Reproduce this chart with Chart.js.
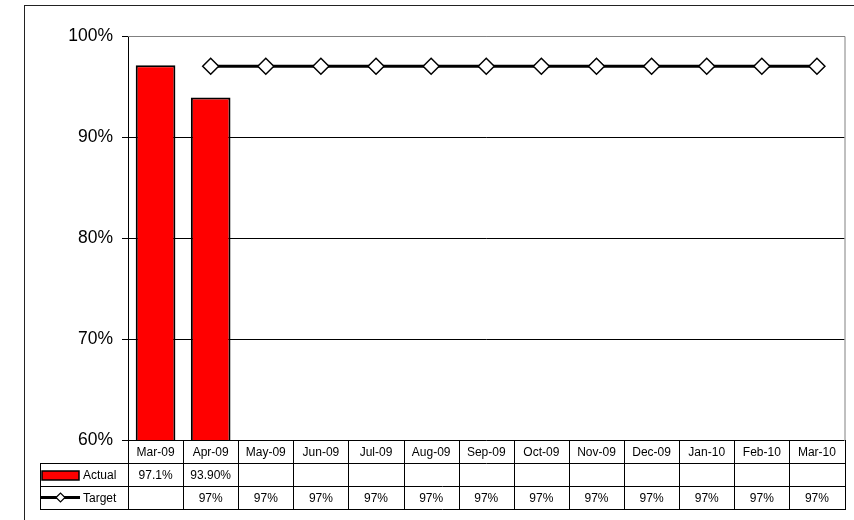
<!DOCTYPE html>
<html>
<head>
<meta charset="utf-8">
<script src="https://cdn.jsdelivr.net/npm/chart.js@4/dist/chart.umd.min.js"></script>
<style>
  body { margin: 0; background: #fff; }
  #wrap { width: 854px; height: 520px; }
</style>
</head>
<body>
<div id="wrap"><canvas id="chart" width="854" height="520"></canvas></div>
<script>
// 月份
const months = ['Mar-09', 'Apr-09', 'May-09', 'Jun-09', 'Jul-09', 'Aug-09', 'Sep-09',
                'Oct-09', 'Nov-09', 'Dec-09', 'Jan-10', 'Feb-10', 'Mar-10'];
// 实际值 (%)，以及表格中显示的小数位数
const actualValues = [97.1, 93.9, null, null, null, null, null, null, null, null, null, null, null];
const actualDecimals = [1, 2];
// 目标值 (%)
const targetValues = [null, 97, 97, 97, 97, 97, 97, 97, 97, 97, 97, 97, 97];
// Y 轴刻度
const yTicks = [60, 70, 80, 90, 100];

const FONT = '"Liberation Sans", Arial, sans-serif';

function fmtActual(i) {
    const v = actualValues[i];
    if (v == null) return '';
    return v.toFixed(actualDecimals[i] ?? 1) + '%';
}
function fmtTarget(i) {
    const v = targetValues[i];
    return v == null ? '' : v.toFixed(0) + '%';
}

// 外框、绘图区边框和底部数据表
const tablePlugin = {
    id: 'dataTable',
    afterDraw(chart) {
        const ctx = chart.ctx;
        const area = chart.chartArea;
        const x = chart.scales.x;
        const rowH = 23;
        const legendLeft = 40;
        const top = area.bottom;
        const r1 = top + rowH, r2 = r1 + rowH, r3 = r2 + rowH;
        const colW = (area.right - area.left) / months.length;

        ctx.save();
        // 外框
        ctx.strokeStyle = '#222';
        ctx.lineWidth = 1;
        ctx.strokeRect(24.5, 5.5, 860, 560);

        // 绘图区右、上边框
        ctx.strokeStyle = '#808080';
        ctx.beginPath();
        ctx.moveTo(area.left, area.top + 0.5);
        ctx.lineTo(area.right + 0.5, area.top + 0.5);
        ctx.lineTo(area.right + 0.5, area.bottom);
        ctx.stroke();

        // 表格线
        ctx.strokeStyle = '#000';
        ctx.beginPath();
        ctx.moveTo(area.left, r1 + 0.5); ctx.lineTo(area.right + 0.5, r1 + 0.5);
        ctx.moveTo(legendLeft, r1 + 0.5); ctx.lineTo(area.left, r1 + 0.5);
        ctx.moveTo(legendLeft, r2 + 0.5); ctx.lineTo(area.right + 0.5, r2 + 0.5);
        ctx.moveTo(legendLeft, r3 + 0.5); ctx.lineTo(area.right + 0.5, r3 + 0.5);
        ctx.moveTo(legendLeft + 0.5, r1); ctx.lineTo(legendLeft + 0.5, r3 + 1);
        for (let i = 0; i <= months.length; i++) {
            const lx = Math.round(area.left + i * colW) + 0.5;
            ctx.moveTo(lx, top); ctx.lineTo(lx, r3 + 1);
        }
        ctx.stroke();

        // 文字
        ctx.fillStyle = '#000';
        ctx.font = '12px ' + FONT;
        ctx.textAlign = 'center';
        ctx.textBaseline = 'middle';
        months.forEach((m, i) => {
            const cx = x.getPixelForValue(i);
            ctx.fillText(m, cx, top + rowH / 2 + 1);
            ctx.fillText(fmtActual(i), cx, r1 + rowH / 2 + 1);
            ctx.fillText(fmtTarget(i), cx, r2 + rowH / 2 + 1);
        });

        // 图例键
        ctx.textAlign = 'left';
        ctx.fillStyle = '#ff0000';
        ctx.fillRect(42, r1 + 8, 37, 9);
        ctx.strokeStyle = '#000';
        ctx.lineWidth = 1.5;
        ctx.strokeRect(42, r1 + 8, 37, 9);
        ctx.fillStyle = '#000';
        ctx.fillText('Actual', 83, r1 + rowH / 2 + 1);

        const ly = r2 + rowH / 2;
        ctx.lineWidth = 3;
        ctx.beginPath();
        ctx.moveTo(41, ly); ctx.lineTo(80, ly);
        ctx.stroke();
        ctx.fillStyle = '#fff';
        ctx.lineWidth = 1.2;
        ctx.beginPath();
        ctx.moveTo(56, ly); ctx.lineTo(60.5, ly - 4.5); ctx.lineTo(65, ly); ctx.lineTo(60.5, ly + 4.5);
        ctx.closePath();
        ctx.fill(); ctx.stroke();
        ctx.fillStyle = '#000';
        ctx.fillText('Target', 83, ly + 1);
        ctx.restore();
    }
};

new Chart(document.getElementById('chart'), {
    type: 'bar',
    data: {
        labels: months,
        datasets: [
            {
                type: 'line',
                label: 'Target',
                data: targetValues,
                borderColor: '#000',
                borderWidth: 3,
                pointStyle: 'rectRot',
                pointRadius: 8,
                pointBackgroundColor: '#fff',
                pointBorderColor: '#000',
                pointBorderWidth: 1.5,
                spanGaps: false,
                order: 0
            },
            {
                label: 'Actual',
                data: actualValues,
                backgroundColor: '#ff0000',
                borderColor: '#000',
                borderWidth: 2,
                borderSkipped: false,
                barPercentage: 0.72,
                categoryPercentage: 1,
                order: 1
            }
        ]
    },
    options: {
        responsive: false,
        animation: false,
        layout: { padding: { left: 0, top: 36, right: 7, bottom: 80 } },
        plugins: {
            legend: { display: false },
            tooltip: { enabled: false }
        },
        scales: {
            x: { display: false },
            y: {
                min: 60,
                max: 100,
                afterFit(scale) { scale.width = 128; },
                afterBuildTicks(scale) { scale.ticks = yTicks.map(v => ({ value: v })); },
                ticks: {
                    color: '#000',
                    padding: 9,
                    font: { family: FONT, size: 17.5 },
                    callback: v => v + '%'
                },
                grid: {
                    color: ctx => ctx.tick && ctx.tick.value === 100 ? '#808080' : '#000',
                    tickColor: '#000',
                    tickLength: 6,
                    lineWidth: 1
                },
                border: { color: '#000', width: 1 }
            }
        }
    },
    plugins: [tablePlugin]
});
</script>
</body>
</html>
